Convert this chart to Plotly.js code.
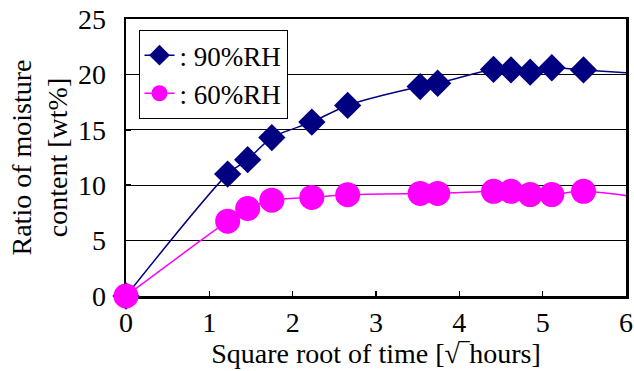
<!DOCTYPE html>
<html>
<head>
<meta charset="utf-8">
<script src="https://cdn.plot.ly/plotly-3.0.1.min.js"></script>
<style>html,body{margin:0;padding:0;background:#fff;}#chart{width:634px;height:371px;}</style>
</head>
<body>
<div id="chart"></div>
<script>
// square root of time [sqrt(hours)]; last point lies beyond the visible axis range
const sqrtTime = [0, 1.22, 1.46, 1.75, 2.23, 2.66, 3.53, 3.74, 4.41, 4.62, 4.85, 5.11, 5.49, 6.32];
const rh90 = [0, 11.0, 12.3, 14.3, 15.7, 17.2, 18.9, 19.2, 20.45, 20.4, 20.2, 20.6, 20.4, 20.0];
const rh60 = [0, 6.75, 7.9, 8.65, 8.9, 9.14, 9.26, 9.26, 9.45, 9.45, 9.15, 9.15, 9.45, 8.7];
const xTicks = [0, 1, 2, 3, 4, 5, 6];
const yTicks = [0, 5, 10, 15, 20, 25];
const names = [': 90%RH', ': 60%RH'];

const FONT = 'Liberation Serif, Times New Roman, serif';
const FS = 28;

const traces = [
  {
    x: sqrtTime, y: rh90, name: names[0], type: 'scatter', mode: 'lines+markers',
    line: {color: '#000080', width: 1.5, shape: 'spline', smoothing: 0.8},
    marker: {symbol: 'diamond', size: 21, color: '#000080'},
    cliponaxis: false
  },
  {
    x: sqrtTime, y: rh60, name: names[1], type: 'scatter', mode: 'lines+markers',
    line: {color: '#FF00FF', width: 1.5, shape: 'spline', smoothing: 0.9},
    marker: {symbol: 'circle', size: 25, color: '#FF00FF'},
    cliponaxis: false
  }
];

const layout = {
  width: 634, height: 371,
  margin: {l: 126, r: 8, t: 19, b: 75},
  paper_bgcolor: '#fff', plot_bgcolor: '#fff',
  font: {family: FONT, size: FS, color: '#000'},
  showlegend: true,
  legend: {
    x: 0.025, y: 0.96, xanchor: 'left', yanchor: 'top',
    bgcolor: '#fff', bordercolor: '#000', borderwidth: 1,
    font: {family: FONT, size: FS - 1, color: '#000'},
    itemsizing: 'trace', tracegroupgap: 0
  },
  xaxis: {
    range: [0, 6], tickvals: xTicks, ticktext: xTicks.map(String),
    showline: true, mirror: true, linecolor: '#000', linewidth: 2.5,
    ticks: 'inside', ticklen: 5, tickwidth: 1.5, tickcolor: '#000',
    showgrid: false, zeroline: false, layer: 'below traces',
    tickfont: {family: FONT, size: FS},
    title: {text: 'Square root of time [√‾hours]', font: {family: FONT, size: FS}, standoff: 0}
  },
  yaxis: {
    range: [0, 25], tickvals: yTicks, ticktext: yTicks.map(String),
    showline: true, mirror: true, linecolor: '#000', linewidth: 2.5,
    ticks: 'inside', ticklen: 5, tickwidth: 1.5, tickcolor: '#000',
    showgrid: true, gridcolor: '#000', gridwidth: 1, zeroline: false, layer: 'below traces',
    tickfont: {family: FONT, size: FS}, ticklabelstandoff: 12,
    title: {text: 'Ratio of moisture<br>content [wt%]', font: {family: FONT, size: FS}, standoff: 2}
  }
};

Plotly.newPlot('chart', traces, layout, {displayModeBar: false, staticPlot: true});
</script>
</body>
</html>
